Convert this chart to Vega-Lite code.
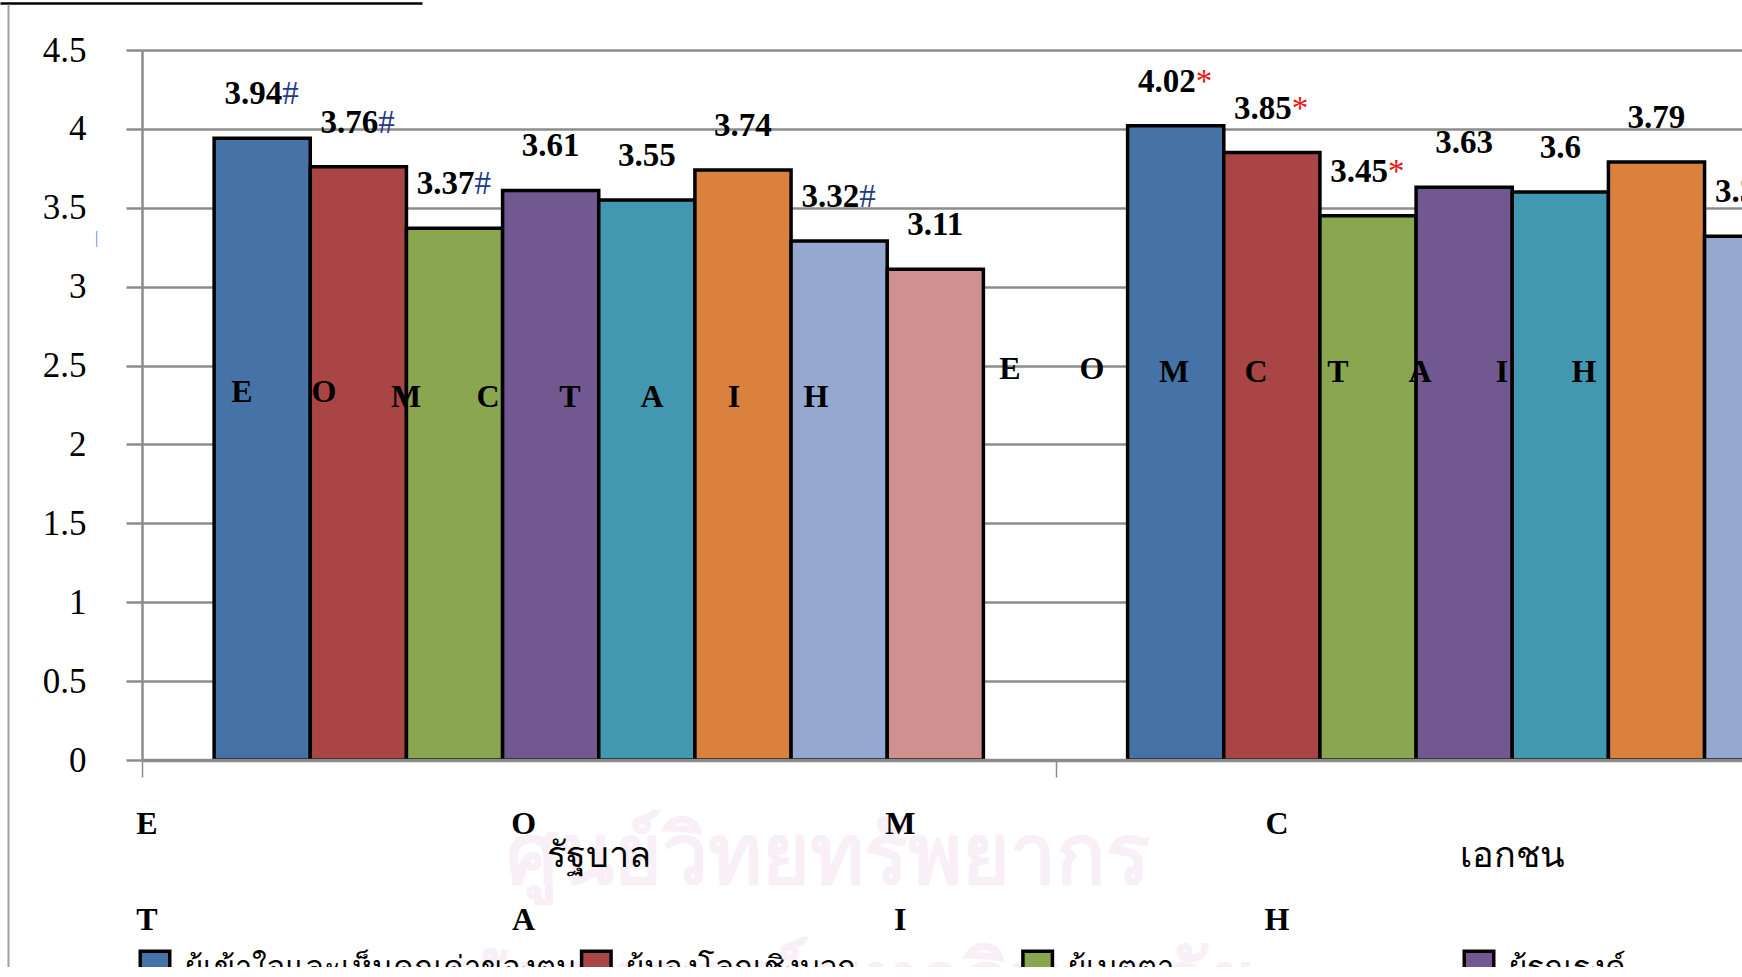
{"$schema":"https://vega.github.io/schema/vega-lite/v6.json","width":1742,"height":967,"padding":0,"autosize":{"type":"none"},"background":"white","view":{"stroke":null},
"datasets":{"bars":[
{"g":"รัฐบาล","s":"ผู้เข้าใจและเห็นคุณค่าของตน","v":3.94,"lab":3.94,"suf":"#"},
{"g":"รัฐบาล","s":"ผู้มองโลกเชิงบวก","v":3.76,"lab":3.76,"suf":"#"},
{"g":"รัฐบาล","s":"ผู้เมตตา","v":3.37,"lab":3.37,"suf":"#"},
{"g":"รัฐบาล","s":"ผู้รณรงค์","v":3.61,"lab":3.61,"suf":""},
{"g":"รัฐบาล","s":"s5","v":3.55,"lab":3.55,"suf":""},
{"g":"รัฐบาล","s":"s6","v":3.74,"lab":3.74,"suf":""},
{"g":"รัฐบาล","s":"s7","v":3.29,"lab":3.32,"suf":"#"},
{"g":"รัฐบาล","s":"s8","v":3.11,"lab":3.11,"suf":""},
{"g":"เอกชน","s":"ผู้เข้าใจและเห็นคุณค่าของตน","v":4.02,"lab":4.02,"suf":"*"},
{"g":"เอกชน","s":"ผู้มองโลกเชิงบวก","v":3.85,"lab":3.85,"suf":"*"},
{"g":"เอกชน","s":"ผู้เมตตา","v":3.45,"lab":3.45,"suf":"*"},
{"g":"เอกชน","s":"ผู้รณรงค์","v":3.63,"lab":3.63,"suf":""},
{"g":"เอกชน","s":"s5","v":3.6,"lab":3.6,"suf":""},
{"g":"เอกชน","s":"s6","v":3.79,"lab":3.79,"suf":""},
{"g":"เอกชน","s":"s7","v":3.32,"lab":3.32,"suf":"#"}
],
"inner1":[{"l":"E","v":2.33},{"l":"O","v":2.33},{"l":"M","v":2.3},{"l":"C","v":2.3},{"l":"T","v":2.3},{"l":"A","v":2.3},{"l":"I","v":2.3},{"l":"H","v":2.3}],
"inner2":[{"l":"E","v":2.48},{"l":"O","v":2.48},{"l":"M","v":2.46},{"l":"C","v":2.46},{"l":"T","v":2.46},{"l":"A","v":2.46},{"l":"I","v":2.46},{"l":"H","v":2.46}],
"keys":[{"l":"E","c":"a","r":"r1"},{"l":"O","c":"b","r":"r1"},{"l":"M","c":"c","r":"r1"},{"l":"C","c":"d","r":"r1"},{"l":"T","c":"a","r":"r2"},{"l":"A","c":"b","r":"r2"},{"l":"I","c":"c","r":"r2"},{"l":"H","c":"d","r":"r2"}],
"legend":[{"s":"ผู้เข้าใจและเห็นคุณค่าของตน"},{"s":"ผู้มองโลกเชิงบวก"},{"s":"ผู้เมตตา"},{"s":"ผู้รณรงค์"}],
"wm":[{"t":"ศูนย์วิทยทรัพยากร","r":"a"},{"t":"จุฬาลงกรณ์มหาวิทยาลัย","r":"b"}],
"frame":[{"x":0.2287,"y":0.757,"t":"|"}]},
"resolve":{"scale":{"x":"independent","y":"independent","color":"independent"},"axis":{"x":"independent","y":"independent"}},
"layer":[
{"data":{"name":"wm"},"mark":{"type":"text","font":"Noto Sans","fontWeight":"bold","fontSize":82,"color":"#f8eff7","clip":true},
 "encoding":{"x":{"datum":"c","scale":{"type":"point","domain":["c"],"range":[828,828],"padding":0},"axis":null},"y":{"field":"r","type":"nominal","scale":{"type":"point","domain":["a","b"],"range":[858,985],"padding":0},"axis":null},"text":{"field":"t"}}},
{"resolve":{"scale":{"color":"shared"}},"layer":[
 {"data":{"name":"bars"},"mark":{"type":"bar","stroke":"black","strokeWidth":3.5,"clip":true},
  "encoding":{
   "x":{"field":"g","type":"nominal","sort":null,"title":null,"scale":{"type":"band","domain":["รัฐบาล","เอกชน"],"range":[142,1969],"paddingInner":0,"paddingOuter":0},
     "axis":{"orient":"bottom","offset":-207,"zindex":1,"labelAngle":0,"tickBand":"extent","domainColor":"#8c8c8c","domainWidth":3.5,"tickColor":"#8c8c8c","tickWidth":1.5,"tickSize":17,"labelFont":"Liberation Serif","labelFontSize":36,"labelColor":"black","labelPadding":61,"grid":false}},
   "xOffset":{"field":"s","type":"nominal","sort":null,"scale":{"domain":["ผู้เข้าใจและเห็นคุณค่าของตน","ผู้มองโลกเชิงบวก","ผู้เมตตา","ผู้รณรงค์","s5","s6","s7","s8"],"range":[0,913.5],"paddingInner":0,"paddingOuter":0.75}},
   "y":{"field":"v","type":"quantitative","title":null,"scale":{"domain":[0,4.5],"range":[760,50],"nice":false},
     "axis":{"orient":"left","offset":-142,"values":[0,0.5,1,1.5,2,2.5,3,3.5,4,4.5],"labelExpr":"datum.value","grid":true,"gridColor":"#8c8c8c","gridWidth":2.5,"domainColor":"#8c8c8c","domainWidth":2.5,"tickColor":"#8c8c8c","tickWidth":2.5,"tickSize":16,"labelFont":"Liberation Serif","labelFontSize":35,"labelColor":"black","labelPadding":40}},
   "color":{"field":"s","type":"nominal","legend":null,"scale":{"domain":["ผู้เข้าใจและเห็นคุณค่าของตน","ผู้มองโลกเชิงบวก","ผู้เมตตา","ผู้รณรงค์","s5","s6","s7","s8"],"range":["#4673a7","#a94545","#8aa64e","#725890","#4298b0","#da813d","#94a8d0","#d09090"]}}}},
 {"data":{"name":"bars"},"transform":[{"filter":"datum.suf===''"}],"mark":{"type":"text","font":"Liberation Serif","fontWeight":"bold","fontSize":33,"dy":-44,"color":"black","clip":true},
  "encoding":{"x":{"field":"g","type":"nominal"},"xOffset":{"field":"s","type":"nominal"},"y":{"field":"v","type":"quantitative"},"text":{"field":"lab"}}},
 {"data":{"name":"bars"},"transform":[{"filter":"datum.suf!==''"}],"mark":{"type":"text","font":"Liberation Serif","fontWeight":"bold","fontSize":33,"dy":-44,"dx":20,"align":"right","color":"black","clip":true},
  "encoding":{"x":{"field":"g","type":"nominal"},"xOffset":{"field":"s","type":"nominal"},"y":{"field":"v","type":"quantitative"},"text":{"field":"lab"}}},
 {"data":{"name":"bars"},"transform":[{"filter":"datum.suf==='#'"}],"mark":{"type":"text","font":"Liberation Serif","fontSize":33,"dy":-44,"dx":20,"align":"left","color":"#1f3a86","clip":true},
  "encoding":{"x":{"field":"g","type":"nominal"},"xOffset":{"field":"s","type":"nominal"},"y":{"field":"v","type":"quantitative"},"text":{"field":"suf"}}},
 {"data":{"name":"bars"},"transform":[{"filter":"datum.suf==='*'"}],"mark":{"type":"text","font":"Liberation Serif","fontSize":33,"dy":-44,"dx":20,"align":"left","color":"#f01010","clip":true},
  "encoding":{"x":{"field":"g","type":"nominal"},"xOffset":{"field":"s","type":"nominal"},"y":{"field":"v","type":"quantitative"},"text":{"field":"suf"}}}
]},
{"data":{"name":"inner1"},"mark":{"type":"text","font":"Liberation Serif","fontWeight":"bold","fontSize":32,"color":"black"},
 "encoding":{"x":{"field":"l","type":"nominal","sort":null,"axis":null,"scale":{"type":"point","padding":0,"domain":["E","O","M","C","T","A","I","H"],"range":[242,816]}},"y":{"field":"v","type":"quantitative","axis":null,"scale":{"domain":[0,4.5],"range":[760,50]}},"text":{"field":"l"}}},
{"data":{"name":"inner2"},"mark":{"type":"text","font":"Liberation Serif","fontWeight":"bold","fontSize":32,"color":"black"},
 "encoding":{"x":{"field":"l","type":"nominal","sort":null,"axis":null,"scale":{"type":"point","padding":0,"domain":["E","O","M","C","T","A","I","H"],"range":[1010,1584]}},"y":{"field":"v","type":"quantitative","axis":null,"scale":{"domain":[0,4.5],"range":[760,50]}},"text":{"field":"l"}}},
{"data":{"name":"keys"},"mark":{"type":"text","font":"Liberation Serif","fontWeight":"bold","fontSize":32,"color":"black"},
 "encoding":{"x":{"field":"c","type":"nominal","axis":null,"scale":{"type":"point","padding":0,"domain":["a","b","c","d"],"range":[147,1277]}},"y":{"field":"r","type":"nominal","axis":null,"scale":{"type":"point","padding":0,"domain":["r1","r2"],"range":[824,920]}},"text":{"field":"l"}}},
{"data":{"name":"legend"},"mark":{"type":"point","shape":"square","filled":true,"size":870,"stroke":"black","strokeWidth":3.5,"opacity":1,"clip":true},
 "encoding":{"x":{"field":"s","type":"nominal","sort":null,"axis":null,"scale":{"type":"point","padding":0,"domain":["ผู้เข้าใจและเห็นคุณค่าของตน","ผู้มองโลกเชิงบวก","ผู้เมตตา","ผู้รณรงค์"],"range":[155,1479]}},"y":{"datum":"r","axis":null,"scale":{"type":"point","padding":0,"domain":["r"],"range":[966,966]}},
 "color":{"field":"s","type":"nominal","legend":null,"scale":{"domain":["ผู้เข้าใจและเห็นคุณค่าของตน","ผู้มองโลกเชิงบวก","ผู้เมตตา","ผู้รณรงค์"],"range":["#4673a7","#a94545","#8aa64e","#725890"]}}}},
{"data":{"name":"legend"},"mark":{"type":"text","font":"Liberation Serif","fontSize":31,"align":"left","baseline":"alphabetic","dx":30,"color":"black","clip":true},
 "encoding":{"x":{"field":"s","type":"nominal","sort":null,"axis":null,"scale":{"type":"point","padding":0,"domain":["ผู้เข้าใจและเห็นคุณค่าของตน","ผู้มองโลกเชิงบวก","ผู้เมตตา","ผู้รณรงค์"],"range":[155,1479]}},"y":{"datum":"r","axis":null,"scale":{"type":"point","padding":0,"domain":["r"],"range":[978,978]}},"text":{"field":"s"}}},
{"data":{"name":"frame"},"mark":{"type":"text","font":"Liberation Serif","fontSize":16,"color":"#4f81bd"},
 "encoding":{"x":{"field":"x","type":"quantitative","title":null,"scale":{"domain":[0,1],"range":[0,422],"nice":false},"axis":{"orient":"top","offset":-3,"domainColor":"black","domainWidth":2.5,"ticks":false,"labels":false,"grid":false,"title":null}},
 "y":{"field":"y","type":"quantitative","title":null,"scale":{"domain":[0,1],"range":[967,4],"nice":false},"axis":{"orient":"left","offset":-8,"domainColor":"#a0a0a0","domainWidth":2,"ticks":false,"labels":false,"grid":false,"title":null}},"text":{"field":"t"}}}
]}
